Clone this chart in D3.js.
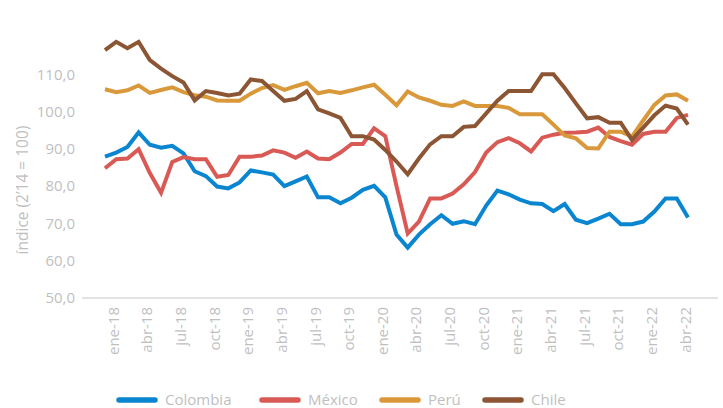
<!DOCTYPE html>
<meta charset="utf-8">
<script src="https://d3js.org/d3.v7.min.js"></script>
<style>
body { margin: 0; background: #fff; }
text { font-family: "Open Sans", sans-serif; fill: #bfbfbf; }
.axis text { font-size: 15px; }
.legend text { font-size: 15px; }
</style>
<svg width="723" height="408"></svg>
<script>

// month names for the category axis
var monthNames = ["ene", "feb", "mar", "abr", "may", "jun", "jul", "ago", "sep", "oct", "nov", "dic"];
var months = [];
[18, 19, 20, 21, 22].forEach(function(yy) {
  monthNames.forEach(function(m, i) {
    if (yy == 22 && i > 4) return;
    months.push(m + "-" + yy);
  });
});

var tickLabels = ["ene-18", "abr-18", "jul-18", "oct-18", "ene-19", "abr-19", "jul-19", "oct-19",
  "ene-20", "abr-20", "jul-20", "oct-20", "ene-21", "abr-21", "jul-21", "oct-21", "ene-22", "abr-22"];
var yTicks = [50, 60, 70, 80, 90, 100, 110];

var colombia = [87.9, 89, 90.5, 94.4, 91.1, 90.3, 90.8, 88.8, 84, 82.7, 79.9, 79.4, 81, 84.2, 83.7, 83.1, 80, 81.3,
  82.6, 77, 77, 75.4, 76.9, 79, 80.1, 77, 67, 63.5, 67, 69.8, 72.2, 69.9, 70.6, 69.8, 74.8, 78.8,
  77.8, 76.4, 75.4, 75.2, 73.3, 75.2, 71, 70.1, 71.3, 72.6, 69.8, 69.8, 70.5, 73.2, 76.7, 76.7, 71.6];
var mexico = [84.8, 87.2, 87.4, 89.9, 83.5, 78.2, 86.5, 87.8, 87.2, 87.2, 82.5, 83, 87.9, 87.9, 88.2, 89.6, 89, 87.6,
  89.3, 87.4, 87.2, 89, 91.3, 91.3, 95.5, 93.4, 80, 67.3, 70.5, 76.7, 76.7, 78, 80.5, 83.8, 89, 91.8,
  92.9, 91.5, 89.3, 93, 93.8, 94.3, 94.4, 94.6, 95.7, 93.2, 92.1, 91.1, 94, 94.6, 94.6, 98.3, 99.1];
var peru = [106, 105.2, 105.7, 107, 105, 105.8, 106.5, 105.2, 104.4, 104, 103, 102.9, 102.9, 104.8, 106.3, 107.1, 105.8, 106.8,
  107.7, 104.9, 105.5, 105, 105.7, 106.5, 107.2, 104.5, 101.7, 105.4, 103.8, 102.9, 101.8, 101.5, 102.7, 101.5, 101.5, 101.5,
  101, 99.3, 99.3, 99.3, 96.5, 93.6, 92.8, 90.2, 90.1, 94.6, 94.6, 93.3, 97.6, 101.8, 104.3, 104.6, 102.9];
var chile = [116.5, 118.7, 117, 118.7, 113.8, 111.5, 109.5, 107.8, 103, 105.5, 105, 104.3, 104.8, 108.6, 108.2, 105.5, 102.9, 103.4,
  105.5, 100.6, 99.5, 98.3, 93.4, 93.4, 92.5, 89.7, 86.6, 83.2, 87.4, 91.2, 93.4, 93.4, 95.9, 96.1, 99.5, 102.9,
  105.5, 105.5, 105.5, 110, 110, 106.3, 102.2, 98.2, 98.5, 97, 97, 92.4, 95.7, 99, 101.6, 100.8, 96.5];

var seriesNames = ["Colombia", "México", "Perú", "Chile"];
var seriesValues = [colombia, mexico, peru, chile];
var seriesColors = ["#0a86d0", "#d95a55", "#d9993a", "#8c5634"];

var svg = d3.select("svg");

var x = d3.scalePoint()
    .domain(months)
    .range([105, 688]);
var y = d3.scaleLinear()
    .domain([50, 120])
    .range([298, 37]);

var fmt = d3.formatLocale({decimal: ",", thousands: ".", grouping: [3], currency: ["", ""]}).format(".1f");

// y axis (labels only)
var yAxis = svg.append("g")
    .attr("class", "axis")
    .attr("transform", "translate(82,0)")
    .call(d3.axisLeft(y).tickValues(yTicks).tickSize(0).tickPadding(7).tickFormat(fmt));
yAxis.select(".domain").remove();
yAxis.selectAll("text").attr("fill", "#bfbfbf");

// baseline
svg.append("line")
    .attr("x1", 82).attr("x2", 718)
    .attr("y1", y(50)).attr("y2", y(50))
    .attr("stroke", "#d9d9d9")
    .attr("stroke-width", 1.3);

// x axis, rotated labels
var xAxis = svg.append("g")
    .attr("class", "axis")
    .attr("transform", "translate(0," + y(50) + ")")
    .call(d3.axisBottom(x).tickValues(tickLabels).tickSize(0));
xAxis.select(".domain").remove();
xAxis.selectAll("text")
    .attr("fill", "#bfbfbf")
    .attr("transform", "rotate(-90)")
    .attr("x", -9)
    .attr("y", 8)
    .attr("dy", "0.35em")
    .style("text-anchor", "end");

// y axis title
svg.append("text")
    .attr("transform", "translate(23,190) rotate(-90)")
    .attr("dy", "0.35em")
    .style("text-anchor", "middle")
    .style("font-size", "15.5px")
    .text("índice (2’14 = 100)");

// lines
var line = d3.line()
    .x(function(d, i) { return x(months[i]); })
    .y(function(d) { return y(d); });

svg.selectAll(".series")
    .data(seriesValues)
    .enter().append("path")
      .attr("class", "series")
      .attr("d", line)
      .attr("fill", "none")
      .attr("stroke", function(d, i) { return seriesColors[i]; })
      .attr("stroke-width", 4)
      .attr("stroke-linejoin", "miter");

// legend
var legendX = [117, 260, 380, 483];
var legend = svg.selectAll(".legend")
    .data(seriesNames)
    .enter().append("g")
      .attr("class", "legend")
      .attr("transform", function(d, i) { return "translate(" + legendX[i] + ",400)"; });

legend.append("line")
    .attr("x1", 2).attr("x2", 38)
    .attr("stroke", function(d, i) { return seriesColors[i]; })
    .attr("stroke-width", 5.5)
    .attr("stroke-linecap", "round");

legend.append("text")
    .attr("x", 48)
    .attr("dy", "0.35em")
    .text(function(d) { return d; });

</script>
